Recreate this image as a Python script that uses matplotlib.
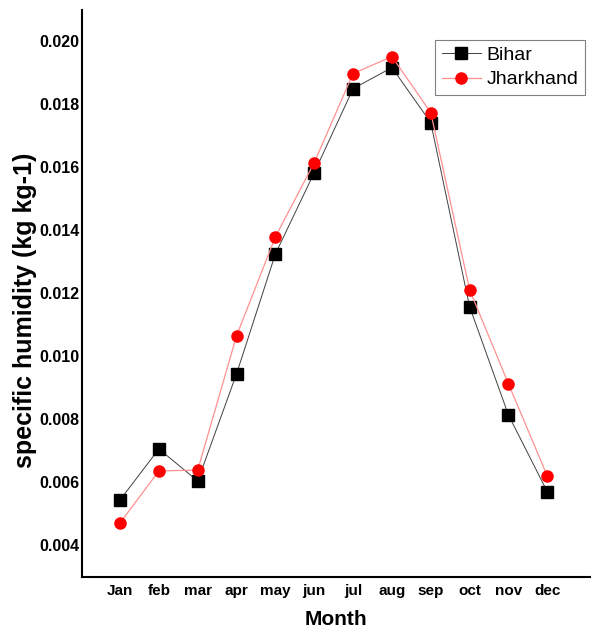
import matplotlib.pyplot as plt

months = ["Jan", "feb", "mar", "apr", "may", "jun", "jul", "aug", "sep", "oct", "nov", "dec"]
bihar = [0.00543, 0.00705, 0.00603, 0.00944, 0.01325, 0.01583,
         0.01850, 0.01917, 0.01742, 0.01157, 0.00813, 0.00569]
jharkhand = [0.00470, 0.00635, 0.00638, 0.01065, 0.01379, 0.01615,
             0.01898, 0.01952, 0.01774, 0.01211, 0.00912, 0.00619]
yticks = [0.004, 0.006, 0.008, 0.010, 0.012, 0.014, 0.016, 0.018, 0.020]

font = "Liberation Sans"

fig = plt.figure(figsize=(5.97, 6.33), dpi=100)
ax = fig.add_axes([82 / 597, 1 - 577 / 633, (590 - 82) / 597, (577 - 10) / 633])

x = list(range(len(months)))
ax.plot(x, bihar, color="#404040", lw=0.7, marker="s", ms=8,
        mfc="black", mec="black", label="Bihar")
ax.plot(x, jharkhand, color="#ff9090", lw=0.9, marker="o", ms=8,
        mfc="red", mec="red", label="Jharkhand")

ax.set_xlim(-0.98, 12.1)
ax.set_ylim(0.00298, 0.021)
ax.set_xticks(x)
ax.set_xticklabels(months, fontfamily=font, fontweight="bold", fontsize=11)
ax.set_yticks(yticks)
ax.set_yticklabels([f"{v:.3f}" for v in yticks], fontfamily=font, fontweight="bold", fontsize=11.5)
ax.tick_params(axis="x", length=0, pad=5)
ax.tick_params(axis="y", length=0, pad=2)

for s in ["top", "right"]:
    ax.spines[s].set_visible(False)
for s in ["left", "bottom"]:
    ax.spines[s].set_linewidth(1.5)

ax.set_xlabel("Month", fontfamily=font, fontweight="bold", fontsize=15, labelpad=9)
ax.set_ylabel("specific humidity (kg kg-1)", fontfamily=font,
              fontweight="bold", fontsize=18)
ax.yaxis.set_label_coords(-0.088, 0.47)

leg = ax.legend(loc="upper right", bbox_to_anchor=(1.01, 0.965), prop={"family": font, "size": 14},
                fancybox=False, framealpha=1, edgecolor="gray", handlelength=2.0,
                borderpad=0.35, labelspacing=0.35, handletextpad=0.3)
leg.get_frame().set_linewidth(0.8)

fig.savefig("out.png", dpi=100)
